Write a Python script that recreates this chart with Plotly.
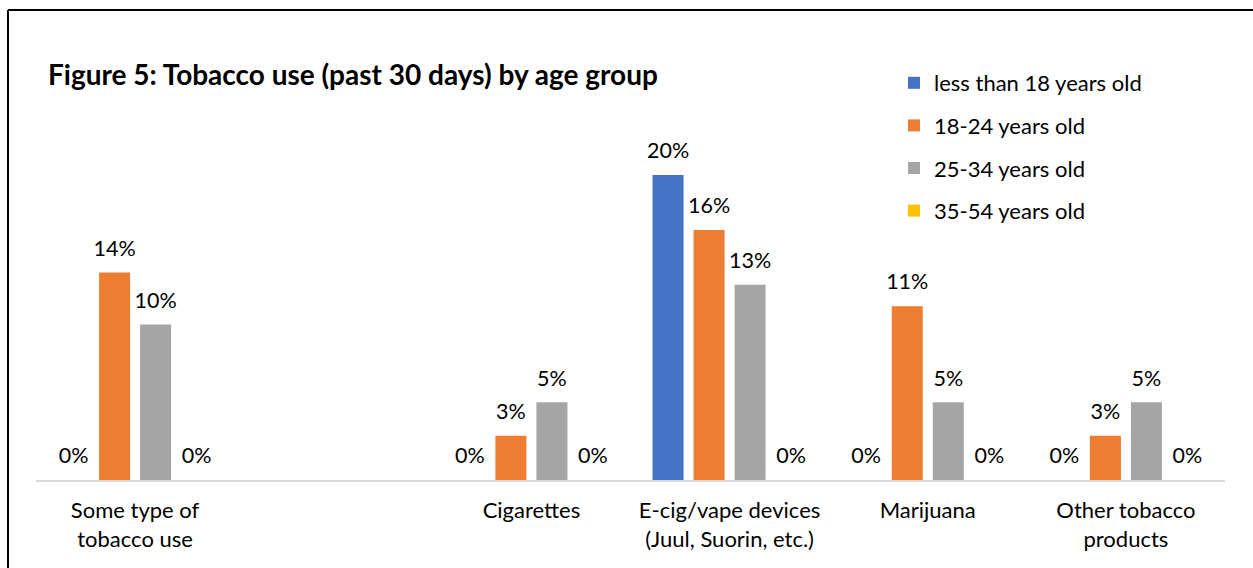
import plotly.graph_objects as go

categories = ["Some type of<br>tobacco use", " ", "Cigarettes",
              "E-cig/vape devices<br>(Juul, Suorin, etc.)", "Marijuana",
              "Other tobacco<br>products"]
series_names = ["less than 18 years old", "18-24 years old",
                "25-34 years old", "35-54 years old"]
under18 = [0, None, 0, 20.0, 0, 0]
age18_24 = [13.6, None, 2.9, 16.4, 11.4, 2.9]
age25_34 = [10.2, None, 5.1, 12.8, 5.1, 5.1]
age35_54 = [0, None, 0, 0, 0, 0]
colors = ["#4472C4", "#ED7D31", "#A5A5A5", "#FFC000"]

FONT = "Lato, Carlito, Calibri, sans-serif"

fig = go.Figure()
for i, (name, vals) in enumerate(zip(series_names, [under18, age18_24, age25_34, age35_54])):
    fig.add_trace(go.Bar(
        x=categories, y=vals, name=name, marker_color=colors[i],
        marker_line_width=0,
        texttemplate="<span style='font-size:21.5px'>%{y:.0f}%</span><br> ",
        textposition="outside", cliponaxis=False, constraintext="none",
        textfont=dict(family=FONT, size=9, color="#000000"),
        legendgroup=f"g{i}", hoverinfo="skip",
    ))

fig.update_layout(
    width=1253, height=568,
    margin=dict(l=36, r=28, t=143, b=88, autoexpand=False),
    paper_bgcolor="white", plot_bgcolor="white",
    barmode="group", bargap=0.172, bargroupgap=0.244,
    uniformtext=dict(mode=False),
    title=dict(text="<b>Figure 5: Tobacco use (past 30 days) by age group</b>",
               x=48 / 1253, xanchor="left", xref="container",
               y=1 - 75 / 568, yanchor="middle", yref="container",
               font=dict(family=FONT, size=28, color="#000000")),
    legend=dict(x=894 / 1253, xref="container", xanchor="left",
                y=1 - 62 / 568, yref="container", yanchor="top",
                font=dict(family=FONT, size=22, color="#000000"),
                tracegroupgap=11, bgcolor="rgba(0,0,0,0)"),
    xaxis=dict(showline=True, linecolor="#D9D9D9", linewidth=1.5,
               ticks="", showgrid=False, zeroline=False,
               tickfont=dict(family=FONT, size=22, color="#000000"),
               ticklabelstandoff=10),
    yaxis=dict(range=[0, 22.1], visible=False, showgrid=False, zeroline=False),
    showlegend=True,
    shapes=[
        dict(type="line", xref="paper", yref="paper",
             x0=(8 - 36) / 1189, x1=(1253 - 36) / 1189,
             y0=(480 - 10) / 337, y1=(480 - 10) / 337,
             line=dict(color="#000000", width=2)),
        dict(type="line", xref="paper", yref="paper",
             x0=(8 - 36) / 1189, x1=(8 - 36) / 1189,
             y0=(480 - 10) / 337, y1=(480 - 580) / 337,
             line=dict(color="#000000", width=2)),
    ],
)

fig.write_html("out.html")
